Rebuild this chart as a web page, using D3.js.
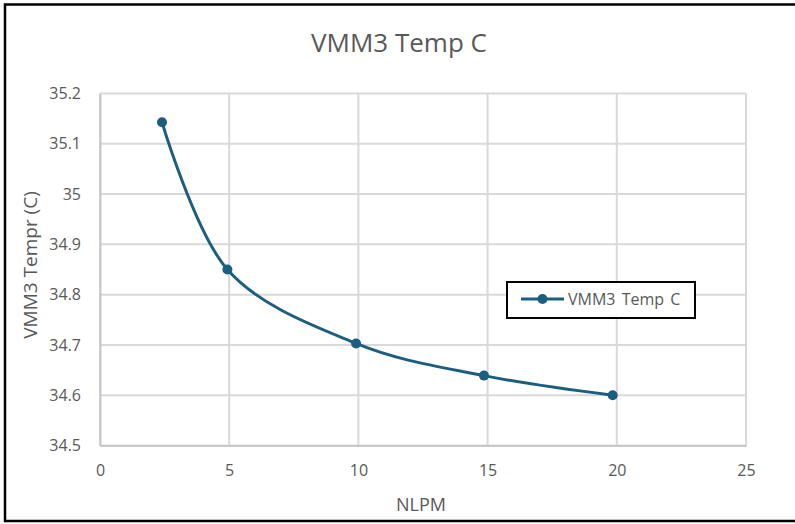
<!DOCTYPE html>
<html>
<head>
<meta charset="utf-8">
<script src="https://cdn.jsdelivr.net/npm/d3@7"></script>
<style>
  html, body { margin: 0; padding: 0; background: #fff; }
  svg { display: block; }
  text { font-family: "Open Sans", "Liberation Sans", sans-serif; fill: #595959; }
</style>
</head>
<body>
<svg id="chart" width="795" height="524"></svg>
<script>
// Flow rate (NLPM) vs. VMM3 temperature
const flowNLPM = [2.4, 4.93, 9.91, 14.86, 19.84];
const tempC = [35.143, 34.85, 34.703, 34.639, 34.6];
const xTicks = [0, 5, 10, 15, 20, 25];
const yTicks = [34.5, 34.6, 34.7, 34.8, 34.9, 35, 35.1, 35.2];
const seriesName = "VMM3 Temp C";

const svg = d3.select("#chart");
const W = 795, H = 524;
const plot = { left: 100, right: 746, top: 93.5, bottom: 445.5 };
const lineColor = "#1b5e80";

// chart frame
svg.append("rect")
  .attr("x", 5).attr("y", 4.5)
  .attr("width", W + 10).attr("height", 516.5)
  .attr("fill", "#fff").attr("stroke", "#000").attr("stroke-width", 2.5);

const x = d3.scaleLinear().domain([0, 25]).range([plot.left, plot.right]);
const y = d3.scaleLinear().domain([34.5, 35.2]).range([plot.bottom, plot.top]);

// gridlines
const grid = svg.append("g");
grid.selectAll("line.h").data(yTicks).join("line")
  .attr("x1", plot.left).attr("x2", plot.right)
  .attr("y1", d => y(d)).attr("y2", d => y(d))
  .attr("stroke", "#d9d9d9").attr("stroke-width", 2);
grid.selectAll("line.v").data(xTicks).join("line")
  .attr("y1", plot.top).attr("y2", plot.bottom)
  .attr("x1", d => x(d)).attr("x2", d => x(d))
  .attr("stroke", "#d9d9d9").attr("stroke-width", 2);

// axes
const xAxis = svg.append("g")
  .attr("transform", `translate(0,${plot.bottom})`)
  .call(d3.axisBottom(x).tickValues(xTicks).tickSize(0).tickPadding(19).tickFormat(d3.format("d")));
const yAxis = svg.append("g")
  .attr("transform", `translate(${plot.left},0)`)
  .call(d3.axisLeft(y).tickValues(yTicks).tickSize(0).tickPadding(19).tickFormat(d => String(d)));
[xAxis, yAxis].forEach(a => {
  a.select(".domain").attr("stroke", "#c8c8c8").attr("stroke-width", 2);
  a.selectAll("text").style("font-size", "16px").style("fill", "#595959")
    .style("font-family", "'Open Sans', sans-serif");
});

// smoothed series line
const line = d3.line()
  .x((d, i) => x(flowNLPM[i]))
  .y(d => y(d))
  .curve(d3.curveCatmullRom.alpha(0));
svg.append("path")
  .datum(tempC)
  .attr("d", line)
  .attr("fill", "none")
  .attr("stroke", lineColor)
  .attr("stroke-width", 3);

svg.selectAll("circle.pt").data(tempC).join("circle")
  .attr("class", "pt")
  .attr("cx", (d, i) => x(flowNLPM[i]))
  .attr("cy", d => y(d))
  .attr("r", 5)
  .attr("fill", lineColor);

// titles
svg.append("text")
  .attr("x", 399).attr("y", 52)
  .attr("text-anchor", "middle")
  .style("font-size", "26px")
  .text(seriesName);
svg.append("text")
  .attr("x", 421).attr("y", 511)
  .attr("text-anchor", "middle")
  .style("font-size", "18px")
  .text("NLPM");
svg.append("text")
  .attr("transform", "translate(37,265) rotate(-90)")
  .attr("text-anchor", "middle")
  .style("font-size", "19px")
  .text("VMM3 Tempr (C)");

// legend
const lg = svg.append("g").attr("transform", "translate(507,282)");
lg.append("rect")
  .attr("width", 188).attr("height", 36)
  .attr("fill", "#fff").attr("stroke", "#000").attr("stroke-width", 2);
lg.append("line")
  .attr("x1", 14).attr("x2", 57).attr("y1", 17).attr("y2", 17)
  .attr("stroke", lineColor).attr("stroke-width", 3);
lg.append("circle").attr("cx", 35.5).attr("cy", 17).attr("r", 5).attr("fill", lineColor);
lg.append("text")
  .attr("x", 61).attr("y", 23)
  .style("font-size", "16px")
  .style("word-spacing", "2px")
  .text(seriesName);
</script>
</body>
</html>
